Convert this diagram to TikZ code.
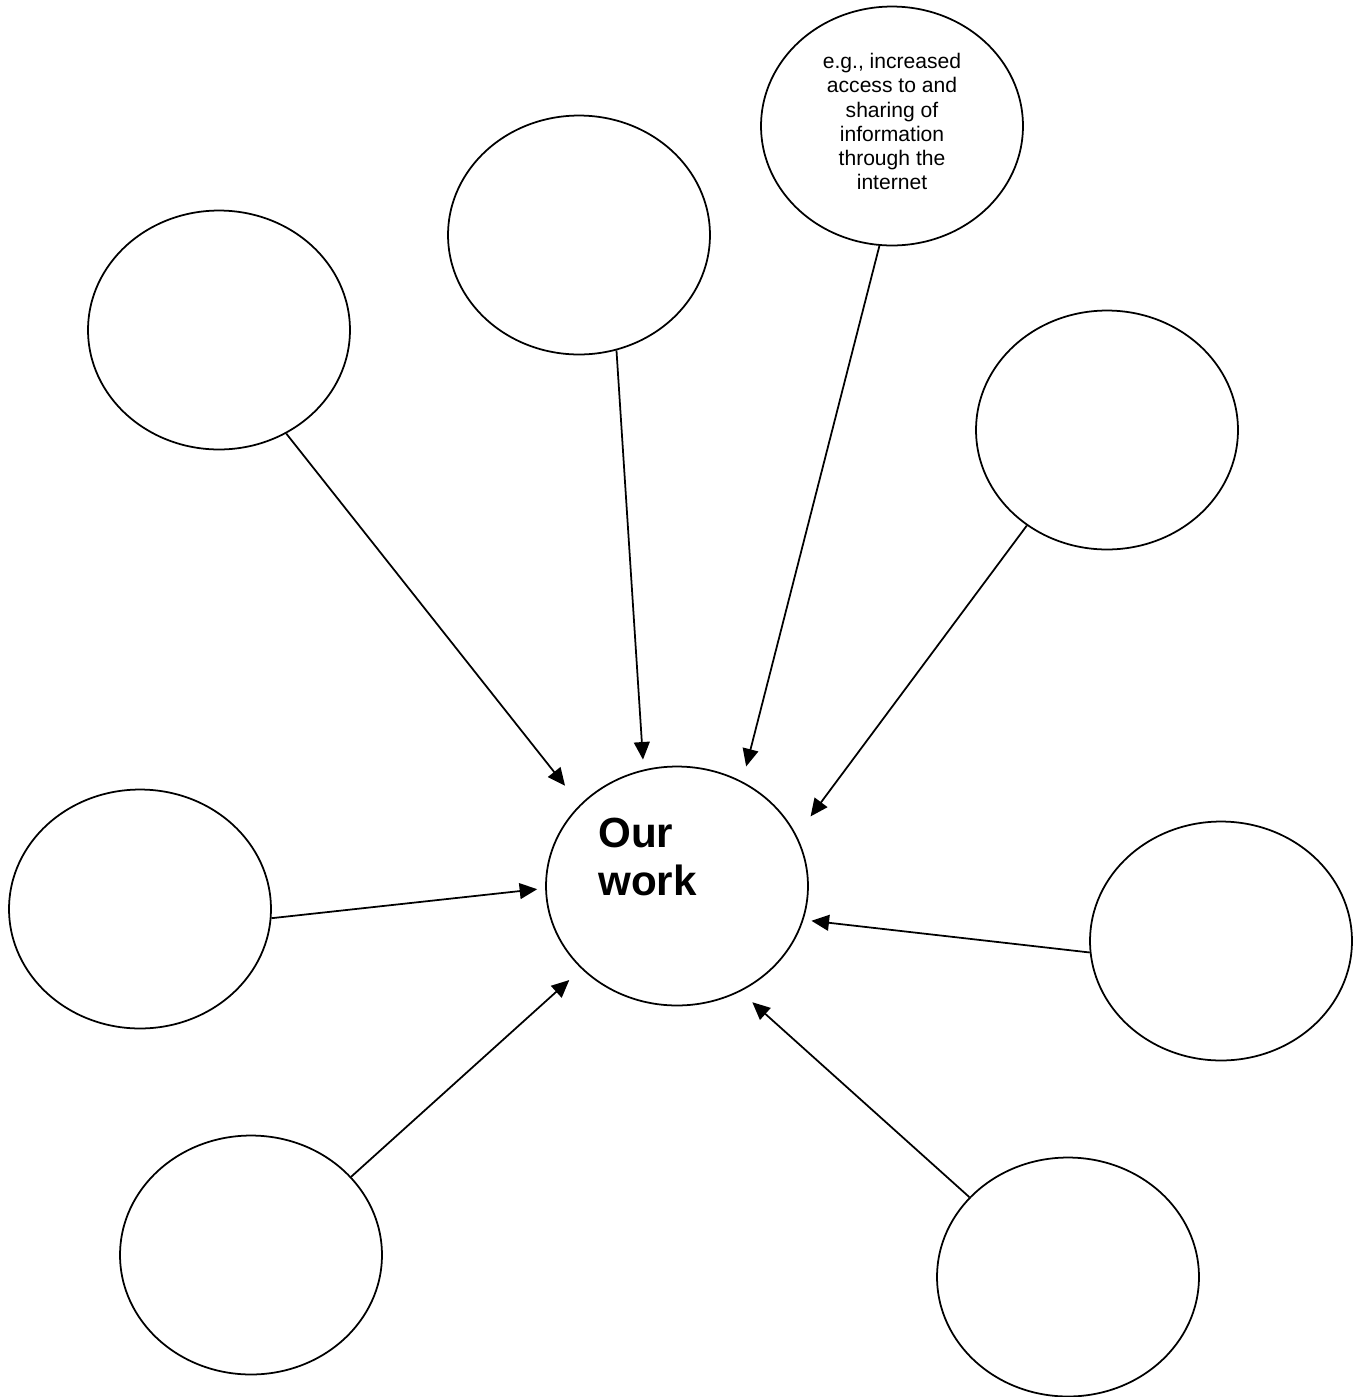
\documentclass[tikz,border=0pt]{standalone}
\usepackage{fontspec}
\setmainfont{Liberation Sans}
\usetikzlibrary{arrows.meta, shapes.geometric}

\begin{document}
\begin{tikzpicture}[x=0.02cm, y=-0.02cm,
    bubble/.style={draw=black, line width=1pt, ellipse, minimum width=5.24cm, minimum height=4.78cm, inner sep=0pt},
    feed/.style={black, line width=1pt, -{Triangle[length=10pt,width=9pt]}}]
  \useasboundingbox (0,0) rectangle (1364,1397);

  % outer bubbles
  \node[bubble] (tl) at (219,330) {};
  \node[bubble] (tm) at (579,235) {};
  \node[bubble] (tr) at (892,126) {};
  \node[bubble] (ru) at (1107,430) {};
  \node[bubble] (lm) at (140,909) {};
  \node[bubble] (rm) at (1221,941) {};
  \node[bubble] (bl) at (251,1255) {};
  \node[bubble] (br) at (1068,1277) {};

  % centre bubble
  \node[bubble] (ours) at (677,886) {};

  \node[anchor=north, align=center, inner sep=0pt, font=\fontsize{12}{13.8}\selectfont] (example) at (892,53)
    {e.g., increased\\access to and\\sharing of\\information\\through the\\internet};
  \node[anchor=north west, align=left, inner sep=0pt, font=\bfseries\fontsize{24}{27.2}\selectfont] (title) at (598,818)
    {Our\\work};

  % arrows into our work
  \foreach \from/\a/\b/\gap in {tl/-57/140/0.48cm, tm/-72/106.5/0.2cm, tr/-96/58.6/0.31cm, ru/-130/23.7/0.47cm,
      lm/-4/181/0.16cm, rm/-175/-15.5/0.16cm, bl/38/221/0.33cm, br/141/-59/0.32cm}
    \draw[feed, shorten >=\gap] (\from.\a) -- (ours.\b);
\end{tikzpicture}
\end{document}
